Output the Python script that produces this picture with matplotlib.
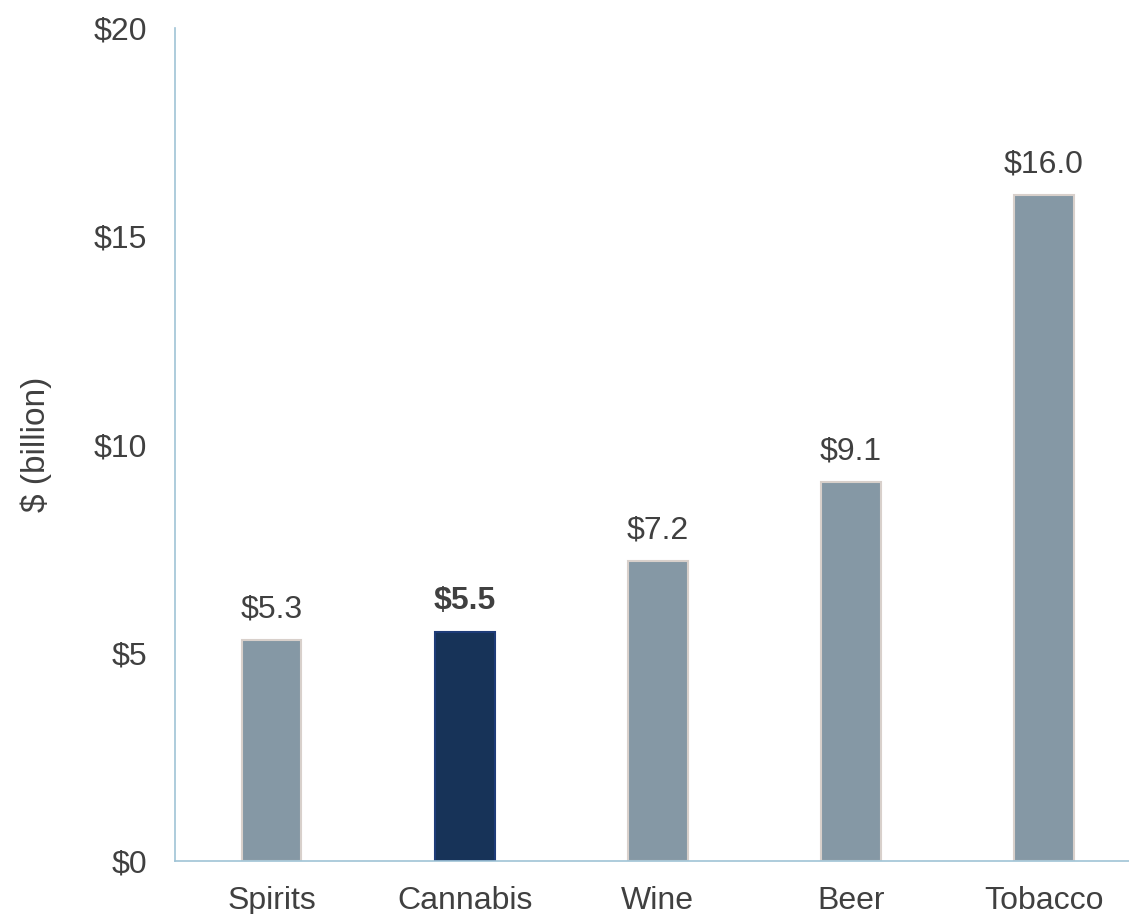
import matplotlib.pyplot as plt

plt.rcParams['font.family'] = ['Liberation Sans', 'DejaVu Sans']

categories = ["Spirits", "Cannabis", "Wine", "Beer", "Tobacco"]
values = [5.3, 5.5, 7.2, 9.1, 16.0]
highlight = "Cannabis"
y_ticks = [0, 5, 10, 15, 20]

grey = "#8598a5"
navy = "#173358"
text_col = "#404040"
spine_col = "#9fc3d6"

fig = plt.figure(figsize=(11.29, 9.14), dpi=100)
ax = fig.add_axes([0.155, 0.058, 0.845, 0.911])

x = range(len(categories))
colors = [navy if c == highlight else grey for c in categories]
edges = ["#1e3c78" if c == highlight else "#d8d0cb" for c in categories]
bars = ax.bar(x, values, width=0.31, color=colors, edgecolor=edges, linewidth=1.5, zorder=2)

for xi, v, c in zip(x, values, categories):
    bold = c == highlight
    ax.text(xi, v + 0.38, f"${v:.1f}", ha="center", va="bottom", fontsize=23,
            color=text_col, fontweight="bold" if bold else "normal")

ax.set_xlim(-0.5, 4.44)
ax.set_ylim(0, 20)
ax.set_yticks(y_ticks)
ax.set_yticklabels([f"${t}" for t in y_ticks])
ax.set_xticks(list(x))
ax.set_xticklabels(categories)
ax.tick_params(axis="both", length=0, labelsize=23, labelcolor=text_col)
ax.tick_params(axis="y", pad=20)
ax.tick_params(axis="x", pad=18)
ax.set_ylabel("$ (billion)", fontsize=24, color=text_col, labelpad=30)

for s in ["top", "right"]:
    ax.spines[s].set_visible(False)
for s in ["left", "bottom"]:
    ax.spines[s].set_color(spine_col)
    ax.spines[s].set_linewidth(1.2)

fig.savefig("out.png", dpi=100)
